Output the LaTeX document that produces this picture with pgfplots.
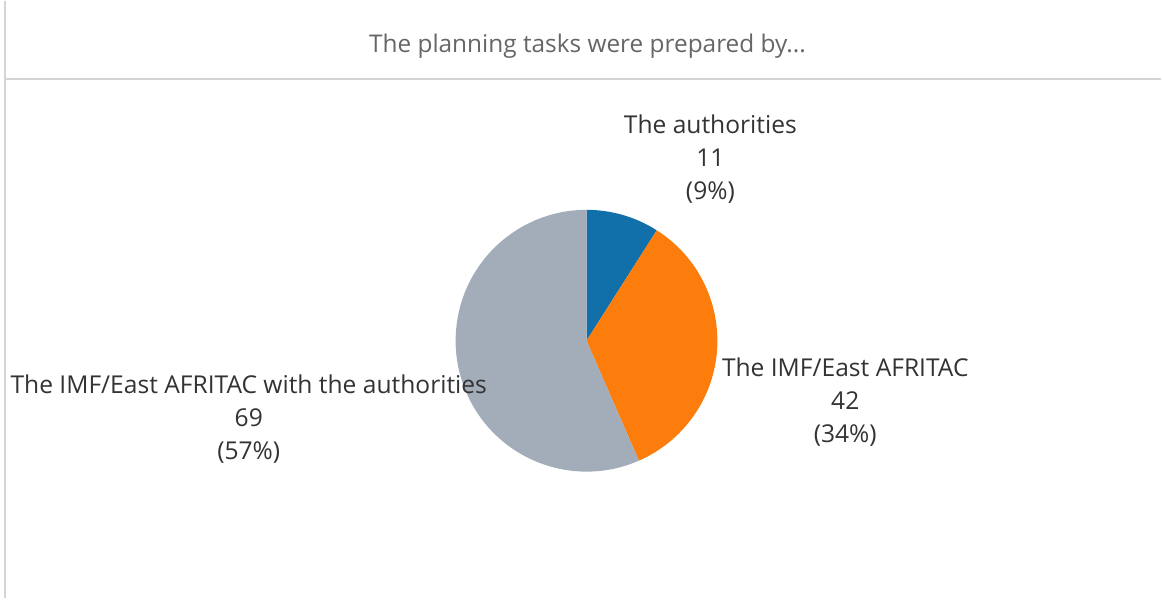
\documentclass[border=0pt]{standalone}
\usepackage{pgfplots}
\usepackage{pgfplotstable}
\pgfplotsset{compat=1.18}
\usepackage{fontspec}
\setmainfont{Open Sans}
\definecolor{cblue}{HTML}{1170AA}
\definecolor{corange}{HTML}{FC7D0B}
\definecolor{cgray}{HTML}{A3ACB9}
\definecolor{txt}{HTML}{333333}
\definecolor{ttl}{HTML}{666666}
\definecolor{rule}{HTML}{D4D4D4}
\pgfplotstableread{
label value
auth 11
imf 42
both 69
}\piedata
\begin{document}
\begin{tikzpicture}
\begin{axis}[
  scale only axis, width=581pt, height=299pt,
  xmin=0, xmax=1162, ymin=0, ymax=598, y dir=reverse,
  hide axis, clip=false]
\pgfplotstablegetelem{0}{value}\of\piedata \edef\va{\pgfplotsretval}
\pgfplotstablegetelem{1}{value}\of\piedata \edef\vb{\pgfplotsretval}
\pgfplotstablegetelem{2}{value}\of\piedata \edef\vc{\pgfplotsretval}
\pgfmathsetmacro\tot{\va+\vb+\vc}
\pgfmathsetmacro\aa{90-360*\va/\tot}
\pgfmathsetmacro\ab{\aa-360*\vb/\tot}
\def\R{65.5pt}
\path (axis cs:0,0) rectangle (axis cs:1162,598);
\fill[cblue] (axis cs:587,340) -- +(90:\R) arc[start angle=90, end angle=\aa, radius=\R] -- cycle;
\fill[corange] (axis cs:587,340) -- +(\aa:\R) arc[start angle=\aa, end angle=\ab, radius=\R] -- cycle;
\fill[cgray] (axis cs:587,340) -- +(\ab:\R) arc[start angle=\ab, end angle=-270, radius=\R] -- cycle;
\draw[rule, line width=1pt] (axis cs:5,78) -- (axis cs:1162,78);
\draw[rule, line width=1pt] (axis cs:5,0) -- (axis cs:5,598);
\node[text=ttl, font=\fontsize{12.2}{14}\selectfont] at (axis cs:588,45) {The planning tasks were prepared by...};
\node[align=center, text=txt, font=\fontsize{12.3}{16.5}\selectfont] at (axis cs:711,158) {The authorities\\\va\\(9\%)};
\node[align=center, text=txt, font=\fontsize{12.3}{16.5}\selectfont] at (axis cs:846,401) {The IMF/East AFRITAC\\\vb\\(34\%)};
\node[align=center, text=txt, font=\fontsize{12.3}{16.5}\selectfont] at (axis cs:249,418) {The IMF/East AFRITAC with the authorities\\\vc\\(57\%)};
\end{axis}
\end{tikzpicture}
\end{document}
